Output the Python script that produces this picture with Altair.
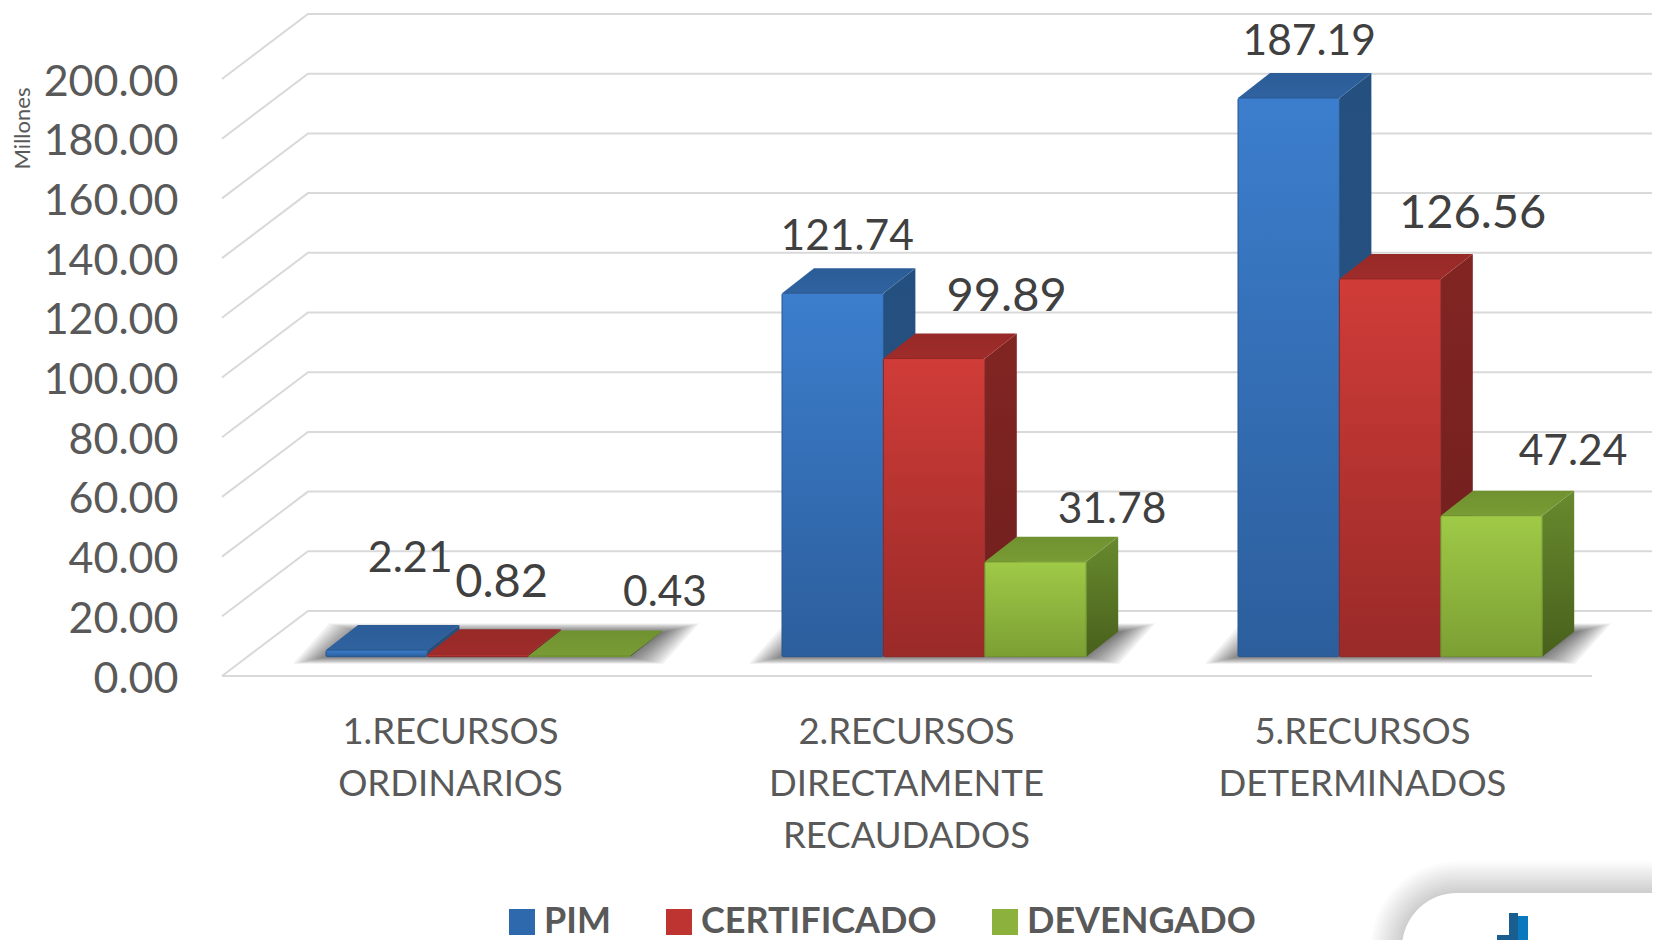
import json
import altair as alt
import pandas as pd

# ---------- chart data ----------
categories = [["1.RECURSOS", "ORDINARIOS"],
              ["2.RECURSOS", "DIRECTAMENTE", "RECAUDADOS"],
              ["5.RECURSOS", "DETERMINADOS"]]
series = ["PIM", "CERTIFICADO", "DEVENGADO"]
pim = [2.21, 121.74, 187.19]
certificado = [0.82, 99.89, 126.56]
devengado = [0.43, 31.78, 47.24]
y_ticks = [0, 20, 40, 60, 80, 100, 120, 140, 160, 180, 200]
values = [pim, certificado, devengado]

# ---------- styling / layout ----------
FONT = "Lato"
PX_PER_UNIT = 2.985    # vertical pixels per value unit
PITCH = 456.0          # horizontal pixels per category
FLOOR_X, FLOOR_Y = 222.0, 676.0   # page position of category 0 / value 0
PLOT_L, PLOT_R = 190, 1652        # page extent of the plot area


def ux(px):            # horizontal page pixels -> x scale units
    return (px - FLOOR_X) / PITCH


def dv(px):            # vertical pixel distance -> value units
    return px / PX_PER_UNIT


def vy(py):            # vertical page pixel -> value
    return (FLOOR_Y - py) / PX_PER_UNIT


WALL_DX, WALL_DY = 86 / PITCH, dv(65)
BAR_W = 101.4 / PITCH
BAR_X0 = 104 / PITCH
BAR_LIFT = dv(19.3)
BAR_DX, BAR_DY = 32 / PITCH, dv(25)

x_label_expr = "".join(
    f"datum.value=={i + 0.5}?{json.dumps(c, ensure_ascii=False)}:" for i, c in enumerate(categories)
) + "''"

x_axis = alt.Axis(
    values=[i + 0.5 for i in range(len(categories))], labelExpr=x_label_expr,
    domain=False, ticks=False, grid=False, title=None, offset=-226, labelPadding=0,
    labelFont=FONT, labelFontSize=36.5, labelColor="#595959", labelLineHeight=52, labelLimit=600,
    labelAngle=0, labelBaseline="top", labelOverlap=False, labelFlush=False, labelBound=False)
y_axis = alt.Axis(
    values=y_ticks, format=".2f", domain=False, ticks=False, grid=False,
    labelFont=FONT, labelFontSize=43, labelColor="#595959", labelPadding=12, labelOffset=3,
    labelOverlap=False, labelFlush=False, labelBound=False,
    title="Millones", titleFont=FONT, titleFontSize=22, titleFontWeight="normal",
    titleColor="#595959", titleAngle=270, titleX=-168, titleY=120, titleAlign="center",
    titleBaseline="middle")

x_scale = alt.Scale(domain=[ux(PLOT_L), ux(PLOT_R)], nice=False, zero=False)
y_scale = alt.Scale(domain=[vy(940), vy(8)], nice=False, zero=False)
X = alt.X("x:Q", scale=x_scale, axis=x_axis)
Y = alt.Y("y:Q", scale=y_scale, axis=y_axis)
X2 = alt.X2("x2:Q")
Y2 = alt.Y2("y2:Q")


def grad(top, bottom):
    return alt.Gradient(gradient="linear", x1=0, x2=0, y1=0, y2=1,
                        stops=[alt.GradientStop(color=top, offset=0),
                               alt.GradientStop(color=bottom, offset=1)])


face_styles = {
    "PIM": dict(front=grad("#3c7ecd", "#2c5e9c"), top=grad("#2b5c98", "#2f639f"),
                side=grad("#24507f", "#264f7e"), edge="#27578f"),
    "CERTIFICADO": dict(front=grad("#d03c38", "#992a28"), top=grad("#962927", "#9f2c2a"),
                        side=grad("#822522", "#6e1f1e"), edge="#8f2725"),
    "DEVENGADO": dict(front=grad("#9fca47", "#7c9f33"), top=grad("#6f9130", "#7a9c35"),
                      side=grad("#688a2e", "#48601c"), edge="#6f9230"),
}

# ---------- walls ----------
grid_rows = []
for v in y_ticks:
    grid_rows += [dict(k=v, x=0, y=v),
                  dict(k=v, x=WALL_DX, y=v + WALL_DY),
                  dict(k=v, x=ux(PLOT_R), y=v + WALL_DY)]
grid_rows += [dict(k=-1, x=0, y=0), dict(k=-1, x=ux(1592), y=0)]

grid = alt.Chart(pd.DataFrame(grid_rows)).mark_line(color="#d9d9d9", strokeWidth=2).encode(
    x=X, y=Y, detail="k:N")

# ---------- floor shadows, one soft stack per category ----------
shadow_rows = []
SH_LEVELS = 12
for i in range(len(categories)):
    left = i + BAR_X0
    right = left + 3 * BAR_W
    for k in range(SH_LEVELS):
        l = left - 3.0 * k / PITCH
        r = right + 3.0 * k / PITCH
        lo = BAR_LIFT - dv(0.65 * k)
        hi = BAR_LIFT + BAR_DY + dv(0.75 * k)
        d = 36 / PITCH
        key = f"{i}-{k}"
        shadow_rows += [dict(k=key, x=l, y=lo, y2=lo),
                        dict(k=key, x=l + d, y=lo, y2=hi),
                        dict(k=key, x=r, y=lo, y2=hi),
                        dict(k=key, x=r + d, y=hi, y2=hi)]
shadow = alt.Chart(pd.DataFrame(shadow_rows)).mark_area(
    color="#000000", opacity=0.055, orient="vertical").encode(x=X, y=Y, y2=Y2, detail="k:N")

# ---------- 3-D bars ----------
bar_layers = []
for s, name in enumerate(series):
    st = face_styles[name]
    front, side, top = [], [], []
    for i, v in enumerate(values[s]):
        xl = i + BAR_X0 + s * BAR_W
        xr = xl + BAR_W
        base = BAR_LIFT
        tp = BAR_LIFT + v
        front.append(dict(x=xl, x2=xr, y=base, y2=tp))
        key = str(i)
        side += [dict(k=key, x=xr, y=base, y2=tp),
                 dict(k=key, x=xr + BAR_DX, y=base + BAR_DY, y2=tp + BAR_DY)]
        top += [dict(k=key, x=xl, y=tp, y2=tp),
                dict(k=key, x=xl + BAR_DX, y=tp, y2=tp + BAR_DY),
                dict(k=key, x=xr, y=tp, y2=tp + BAR_DY),
                dict(k=key, x=xr + BAR_DX, y=tp + BAR_DY, y2=tp + BAR_DY)]
    bar_layers += [
        alt.Chart(pd.DataFrame(side)).mark_area(fill=st["side"], orient="vertical")
        .encode(x=X, y=Y, y2=Y2, detail="k:N"),
        alt.Chart(pd.DataFrame(top)).mark_area(fill=st["top"], orient="vertical")
        .encode(x=X, y=Y, y2=Y2, detail="k:N"),
        alt.Chart(pd.DataFrame(front)).mark_rect(
            fill=st["front"], stroke=st["edge"], strokeWidth=1, cornerRadius=1.5)
        .encode(x=X, x2=X2, y=Y, y2=Y2),
    ]

# ---------- data labels (hand-placed in the reference) ----------
label_nudge = {  # series -> per category (dx px, dy px, font size) from the bar's top centre
    "PIM": [(33.5, -91.5, 43), (14.5, -56.5, 42.5), (20.5, -55.5, 42.5)],
    "CERTIFICADO": [(23.5, -71, 47), (72.5, -61.5, 47), (82.5, -64.5, 47)],
    "DEVENGADO": [(85.5, -62, 42.5), (76.5, -51.5, 42.5), (81.5, -63.5, 42.5)],
}
label_rows = []
for s, name in enumerate(series):
    for i, v in enumerate(values[s]):
        dx, dy, fs = label_nudge[name][i]
        label_rows.append(dict(x=i + BAR_X0 + (s + 0.5) * BAR_W + dx / PITCH,
                               y=BAR_LIFT + v - dv(dy), value=v, fs=fs))
labels = alt.Chart(pd.DataFrame(label_rows)).mark_text(
    font=FONT, color="#404040", align="center", baseline="middle").encode(
    x=X, y=Y, text=alt.Text("value:Q", format=".2f"),
    size=alt.Size("fs:Q", scale=None, legend=None))

# ---------- legend ----------
legend_df = pd.DataFrame({"serie": series, "x": [0, 0, 0], "y": [0, 0, 0]})
legend_layer = alt.Chart(legend_df).mark_square(size=0).encode(
    x=X, y=Y,
    color=alt.Color("serie:N", scale=alt.Scale(domain=series, range=["#2f69ad", "#bd3431", "#8db13d"]),
                    sort=series,
                    legend=alt.Legend(
                        orient="none", legendX=314, legendY=896, direction="horizontal", columns=3,
                        title=None, symbolType="square", symbolSize=676, symbolOpacity=1,
                        symbolStrokeWidth=0, labelFont=FONT, labelFontWeight="bold",
                        labelFontSize=36, labelColor="#595959", labelOffset=4,
                        columnPadding=50, gridAlign="none", labelLimit=400)),
)

# ---------- logo card, bottom right ----------
CARD_L, CARD_T = 1402, 893
card_layers = []
for k in range(12, 0, -1):
    e = k * 2.6
    card_layers.append(
        alt.Chart(pd.DataFrame([dict(x=ux(CARD_L - e), x2=ux(1800), y=vy(CARD_T - e), y2=vy(1040))]))
        .mark_rect(fill="#000000", opacity=0.017, cornerRadius=55 + e)
        .encode(x=X, x2=X2, y=Y, y2=Y2))
card_layers.append(
    alt.Chart(pd.DataFrame([dict(x=ux(CARD_L), x2=ux(1800), y=vy(CARD_T), y2=vy(1040))]))
    .mark_rect(fill="#ffffff", cornerRadius=55).encode(x=X, x2=X2, y=Y, y2=Y2))
for xa, xb, ya, col in [(1497, 1509, 935, "#1a5d8f"), (1509, 1518, 913, "#1a5d8f"), (1518, 1528, 916, "#0a78bf")]:
    card_layers.append(
        alt.Chart(pd.DataFrame([dict(x=ux(xa), x2=ux(xb), y=vy(ya), y2=vy(960))]))
        .mark_rect(fill=col).encode(x=X, x2=X2, y=Y, y2=Y2))

chart = alt.layer(grid, shadow, *bar_layers, labels, *card_layers, legend_layer).properties(
    width=PLOT_R - PLOT_L, height=932,
    padding={"left": PLOT_L - 8, "top": 0, "right": 0, "bottom": 0},
    autosize=alt.AutoSizeParams(type="none"),
    background="#ffffff",
).configure_view(stroke=None)

chart.save("out.html", embed_options={"renderer": "svg", "actions": False})
